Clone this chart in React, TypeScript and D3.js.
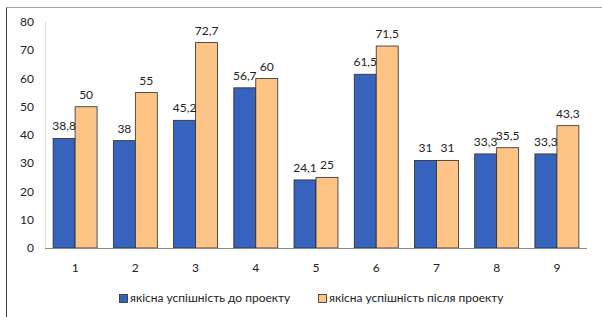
import { useMemo } from 'react';
import * as d3 from 'd3';

const categories = ['1', '2', '3', '4', '5', '6', '7', '8', '9'];
const beforeValues = [38.8, 38, 45.2, 56.7, 24.1, 61.5, 31, 33.3, 33.3];
const afterValues = [50, 55, 72.7, 60, 25, 71.5, 31, 35.5, 43.3];
const seriesNames = ['якісна успішність до проекту', 'якісна успішність після проекту'];
const yTicks = [0, 10, 20, 30, 40, 50, 60, 70, 80];

const W = 602;
const H = 317;
const FONT = 'Lato, "Open Sans", sans-serif';
const BLUE = '#3563BE';
const ORANGE = '#FEC486';

function fmt(v: number) {
  return String(v).replace('.', ',');
}

export default function App() {
  const margin = { top: 22, right: 15, bottom: 69, left: 45 };

  const x = useMemo(
    () => d3.scaleBand().domain(categories).range([margin.left, W - margin.right]).paddingInner(0.27).paddingOuter(0.135),
    []
  );
  const y = useMemo(() => d3.scaleLinear().domain([0, 80]).range([H - margin.bottom, margin.top]), []);
  const half = x.bandwidth() / 2;

  const series = [
    { values: beforeValues, color: BLUE, offset: 0 },
    { values: afterValues, color: ORANGE, offset: half },
  ];

  return (
    <svg width={W} height={H} style={{ position: 'absolute', left: 0, top: 0, background: '#fff' }} fontFamily={FONT}>
      {/* frame */}
      <line x1={6.5} x2={W} y1={7.5} y2={7.5} stroke="#a6a6a6" />
      <line x1={6.5} x2={6.5} y1={7.5} y2={H} stroke="#404040" />

      {/* y axis */}
      <line x1={margin.left + 0.5} x2={margin.left + 0.5} y1={y(80)} y2={y(0)} stroke="#d9d9d9" />
      {yTicks.map((t) => (
        <text key={t} x={34} y={y(t)} dy="0.35em" textAnchor="end" fontSize={12} fill="#222">
          {t}
        </text>
      ))}

      {/* bars */}
      {series.map((s, si) =>
        categories.map((c, i) => {
          const bx = (x(c) as number) + s.offset;
          const v = s.values[i];
          return (
            <rect
              key={`${si}-${c}`}
              x={bx}
              y={y(v)}
              width={half}
              height={y(0) - y(v)}
              fill={s.color}
              stroke="#2b2b2b"
              strokeWidth={0.8}
            />
          );
        })
      )}

      {/* x axis */}
      <line x1={margin.left} x2={W - margin.right} y1={y(0) + 0.5} y2={y(0) + 0.5} stroke="#8c8c8c" />
      {categories.map((c) => (
        <text key={c} x={(x(c) as number) + half} y={272} textAnchor="middle" fontSize={12} fill="#222">
          {c}
        </text>
      ))}

      {/* data labels */}
      {series.map((s, si) =>
        categories.map((c, i) => {
          const v = s.values[i];
          const cx = (x(c) as number) + s.offset + half / 2;
          return (
            <text key={`l${si}-${c}`} x={cx} y={y(v) - 8} textAnchor="middle" fontSize={12} fill="#222">
              {fmt(v)}
            </text>
          );
        })
      )}

      {/* legend */}
      <rect x={119.5} y={294.5} width={8} height={8} fill={BLUE} stroke="#2b2b2b" strokeWidth={0.8} />
      <text x={130} y={302} fontSize={12} fill="#222">
        {seriesNames[0]}
      </text>
      <rect x={318.5} y={294.5} width={8} height={8} fill={ORANGE} stroke="#2b2b2b" strokeWidth={0.8} />
      <text x={329} y={302} fontSize={12} fill="#222">
        {seriesNames[1]}
      </text>
    </svg>
  );
}
